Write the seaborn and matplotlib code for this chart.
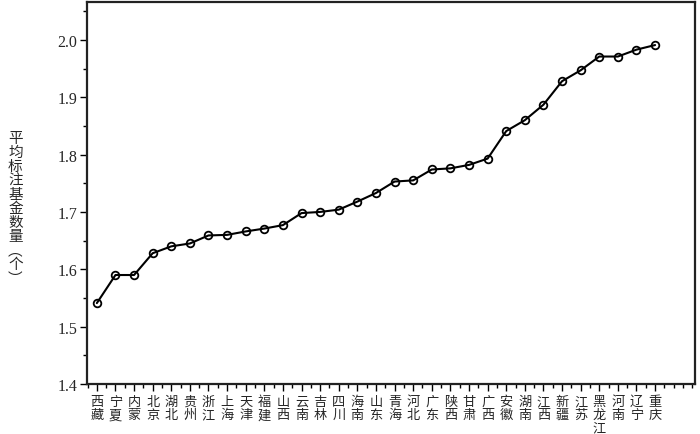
import numpy as np
import pandas as pd
import seaborn as sns
import matplotlib
matplotlib.use('Agg')
import matplotlib.pyplot as plt
from matplotlib.ticker import FixedLocator, MultipleLocator

# provinces sorted by mean value
provinces = ['西藏', '宁夏', '内蒙', '北京', '湖北', '贵州', '浙江', '上海', '天津', '福建',
             '山西', '云南', '吉林', '四川', '海南', '山东', '青海', '河北', '广东', '陕西',
             '甘肃', '广西', '安徽', '湖南', '江西', '新疆', '江苏', '黑龙江', '河南', '辽宁', '重庆']
mean_funds = [1.541, 1.590, 1.590, 1.628, 1.640, 1.645, 1.659, 1.660, 1.666, 1.671,
              1.677, 1.698, 1.700, 1.704, 1.718, 1.733, 1.753, 1.755, 1.774, 1.776,
              1.782, 1.793, 1.841, 1.860, 1.887, 1.928, 1.947, 1.971, 1.971, 1.983, 1.991]
y_ticks = [1.4, 1.5, 1.6, 1.7, 1.8, 1.9, 2.0]

df = pd.DataFrame({'pos': np.arange(len(provinces)), 'val': mean_funds})

sns.set_style('ticks')
plt.rcParams['font.family'] = ['Liberation Serif', 'Noto Sans CJK SC', 'DejaVu Sans']

fig = plt.figure(figsize=(7, 4.35), dpi=100)
ax = fig.add_axes([0.124, 0.115, 0.869, 0.878])

sns.lineplot(data=df, x='pos', y='val', ax=ax, color='black', linewidth=1.5,
             marker='o', markersize=5.5, markerfacecolor='none',
             markeredgecolor='black', markeredgewidth=1.3)

ax.set_xlim(-0.54, 32.15)
ax.set_ylim(1.4, 2.066)
ax.set_yticks(y_ticks)
ax.set_yticklabels([f'{v:.1f}' for v in y_ticks], fontsize=11.5)
ax.yaxis.set_minor_locator(MultipleLocator(0.05))

ax.set_xticks(range(len(provinces)))
ax.set_xticklabels(['\n'.join(p) for p in provinces], fontsize=9.5,
                   family=['Noto Sans CJK SC'], linespacing=1.02)
ax.xaxis.set_minor_locator(FixedLocator(np.arange(-0.5, 32.5, 0.5)))

ax.tick_params(axis='both', which='major', length=5, width=1, direction='out', color='black')
ax.tick_params(axis='both', which='minor', length=3, width=1, direction='out', color='black')
ax.tick_params(axis='x', which='major', pad=3)
ax.tick_params(axis='y', which='major', pad=2)

for s in ax.spines.values():
    s.set_visible(True)
    s.set_color('#222222')
    s.set_linewidth(1.6)

ax.set_xlabel('')
ax.set_ylabel('')
fig.text(0.022, 0.52, '\n'.join('平均标注基金数量') + '\n︵\n个\n︶', ha='center', va='center',
         fontsize=10.5, family=['Noto Sans CJK SC'], linespacing=1.0)

fig.savefig('out.png', dpi=100)
